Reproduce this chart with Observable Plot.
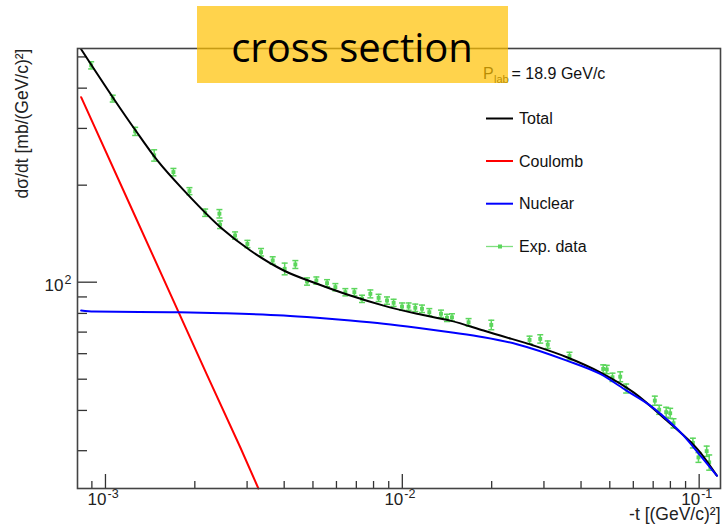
<!DOCTYPE html>
<html>
<head>
<meta charset="utf-8">
<script src="https://cdn.jsdelivr.net/npm/d3@7"></script>
<script src="https://cdn.jsdelivr.net/npm/@observablehq/plot@0.6"></script>
<style>
  body { margin: 0; background: #fff; }
  #chart { width: 723px; height: 530px; }
</style>
</head>
<body>
<div id="chart"></div>
<script>
// Measured elastic cross section: -t [(GeV/c)^2], dσ/dt [mb/(GeV/c)^2] and its error
const expT = [8.95e-4, 1.058e-3, 1.259e-3, 1.459e-3, 1.694e-3, 1.918e-3, 2.167e-3, 2.420e-3, 2.433e-3, 2.733e-3,
  3.007e-3, 3.343e-3, 3.659e-3, 4.015e-3, 4.362e-3, 4.776e-3, 5.134e-3, 5.578e-3, 5.95e-3, 6.428e-3,
  6.894e-3, 7.316e-3, 7.804e-3, 8.32e-3, 8.88e-3, 9.348e-3, 9.977e-3, 0.0105, 0.01106, 0.01165,
  0.01233, 0.0135, 0.01414, 0.0147, 0.01672, 0.01994, 0.02683, 0.02915, 0.0309, 0.03657,
  0.0475, 0.04883, 0.05105, 0.0542, 0.05677, 0.0709, 0.07332, 0.07743, 0.07987, 0.08195,
  0.09524, 0.09946, 0.106, 0.1081];
const expSigma = [470.9, 371.3, 293.8, 247.5, 219.6, 191.7, 164.3, 163.1, 150.8, 139.6,
  131.4, 123.9, 116.8, 110.0, 113.5, 100.5, 101.2, 99.3, 96.5, 93.1,
  93.1, 88.8, 92.0, 89.4, 87.7, 86.3, 84.0, 84.0, 83.3, 82.7,
  80.7, 79.8, 77.5, 77.8, 75.1, 73.7, 66.2, 66.7, 64.0, 59.0,
  53.8, 53.6, 50.7, 50.9, 46.8, 42.9, 40.2, 39.5, 39.2, 36.5,
  31.7, 28.6, 29.9, 27.6];
const expErr = [12, 9, 8.5, 10, 5.8, 4.8, 4.3, 4.9, 4.1, 3.6,
  3.4, 3.3, 3.1, 4.6, 3.2, 2.6, 2.6, 2.5, 2.5, 2.4,
  2.4, 2.3, 2.6, 2.3, 2.3, 2.2, 2.2, 2.2, 2.2, 2.2,
  2.1, 2.1, 2.0, 2.0, 2.0, 2.5, 1.8, 2.0, 1.7, 1.6,
  1.6, 1.6, 1.5, 1.8, 1.5, 1.4, 1.3, 1.4, 1.4, 1.2,
  1.1, 1.0, 1.1, 1.5];

// Model curves
const totalT = [8.28e-4, 1.066e-3, 1.262e-3, 1.493e-3, 1.884e-3, 2.472e-3, 3.077e-3, 3.985e-3, 5.16e-3, 6.68e-3,
  8.65e-3, 0.01121, 0.01451, 0.01878, 0.02138, 0.02767, 0.03584, 0.04642, 0.0601, 0.0778, 0.1008, 0.1147];
const totalSigma = [528, 371, 296, 239, 188, 146.5, 125.4, 108.7, 98.9, 90.9,
  84.6, 79.8, 76.0, 70.8, 68.3, 63.6, 58.5, 52.5, 45.5, 37.2, 29.65, 25.1];

const nuclearT = [8.28e-4, 9.13e-4, 1.655e-3, 2.489e-3, 3.985e-3, 5.16e-3, 6.68e-3, 8.65e-3, 0.01121, 0.01451,
  0.01878, 0.02432, 0.03584, 0.04642, 0.05709, 0.0684, 0.07391, 0.0886, 0.1008, 0.1147];
const nuclearSigma = [81.7, 81.1, 80.7, 80.1, 78.8, 77.5, 76.0, 74.3, 72.2, 69.9,
  67.5, 64.2, 57.1, 51.9, 46.0, 41.4, 39.1, 33.4, 29.0, 25.1];

const coulombT = [8.28e-4, 1.226e-3, 2.2e-3, 2.847e-3, 3.275e-3];
const coulombSigma = [375, 169, 51.5, 30.7, 22.9];

// Axis ticks
const xMajor = [1e-3, 1e-2, 1e-1];
const xMajorExp = ["-3", "-2", "-1"];
const xMinor = [9e-4, 2e-3, 3e-3, 4e-3, 5e-3, 6e-3, 7e-3, 8e-3, 9e-3,
  2e-2, 3e-2, 4e-2, 5e-2, 6e-2, 7e-2, 8e-2, 9e-2];
const yMajor = [100];
const yMajorExp = ["2"];
const yMinor = [30, 40, 50, 60, 70, 80, 90, 200, 300, 400, 500];

// Legend
const legendLabels = ["Total", "Coulomb", "Nuclear", "Exp. data"];
const legendColors = ["#000000", "#ff0000", "#0000ff", "#5cd65c"];
const beamLabel = ["P", "lab", "= 18.9 GeV/c"];
const titleText = "cross section";

const GREEN = "#5cd65c";
const FONT = "'Liberation Sans', Arial, Helvetica, sans-serif";

const W = 723, H = 530;
const ML = 77, MT = 48, MR = 3, MB = 42;
const frameW = W - ML - MR, frameH = H - MT - MB;

const expData = expT.map((t, i) => ({t, s: expSigma[i], e: expErr[i]}));
const total = totalT.map((t, i) => ({t, s: totalSigma[i]}));
const nuclear = nuclearT.map((t, i) => ({t, s: nuclearSigma[i]}));
const coulomb = coulombT.map((t, i) => ({t, s: coulombSigma[i]}));

// short horizontal bar used as the error-bar cap
const capSymbol = {draw(context) { context.moveTo(-3, 0); context.lineTo(3, 0); }};

const plot = Plot.plot({
  width: W, height: H,
  marginLeft: ML, marginTop: MT, marginRight: MR, marginBottom: MB,
  style: {background: "white", fontFamily: FONT, fontSize: "16px", overflow: "visible"},
  x: {type: "log", domain: [8.05e-4, 0.118], axis: null},
  y: {type: "log", domain: [22.9, 531], axis: null},
  marks: [
    // ticks drawn inside the frame
    Plot.tickY(yMinor, {y: d => d, insetRight: frameW - 10, stroke: "#333", strokeWidth: 1.3}),
    Plot.tickY(yMajor, {y: d => d, insetRight: frameW - 20, stroke: "#333", strokeWidth: 1.3}),
    Plot.tickX(xMinor, {x: d => d, insetTop: frameH - 7, stroke: "#333", strokeWidth: 1.3}),
    Plot.tickX(xMajor, {x: d => d, insetTop: frameH - 14, stroke: "#333", strokeWidth: 1.3}),

    // tick labels (base and exponent)
    Plot.text(xMajor, {x: d => d, text: () => "10", frameAnchor: "bottom", textAnchor: "end",
      lineAnchor: "top", dx: 1, dy: 4, fontSize: 17, fill: "#222"}),
    Plot.text(xMajor, {x: d => d, text: (d, i) => xMajorExp[i], frameAnchor: "bottom", textAnchor: "start",
      lineAnchor: "top", dx: 2, dy: 0.5, fontSize: 12.5, fill: "#222"}),
    Plot.text(yMajor, {y: d => d, text: () => "10", frameAnchor: "left", textAnchor: "end",
      lineAnchor: "middle", dx: -14, dy: 3, fontSize: 17, fill: "#222"}),
    Plot.text(yMajor, {y: d => d, text: (d, i) => yMajorExp[i], frameAnchor: "left", textAnchor: "start",
      lineAnchor: "top", dx: -13, dy: -7, fontSize: 12.5, fill: "#222"}),

    // axis titles
    Plot.text(["-t [(GeV/c)²]"], {text: d => d, frameAnchor: "bottom-right", textAnchor: "end",
      lineAnchor: "bottom", dx: 0, dy: 31, fontSize: 17.5, fill: "#222"}),
    Plot.text(["dσ/dt [mb/(GeV/c)²]"], {text: d => d, frameAnchor: "top-left", textAnchor: "end",
      lineAnchor: "bottom", rotate: -90, dx: -50, dy: 0, fontSize: 17.5, fill: "#222"}),

    // measured points with error bars
    Plot.ruleX(expData, {x: "t", y1: d => d.s - d.e, y2: d => d.s + d.e, stroke: GREEN, strokeWidth: 1.5}),
    Plot.dot(expData, {x: "t", y: d => d.s + d.e, symbol: capSymbol, stroke: GREEN, fill: "none", strokeWidth: 1.5}),
    Plot.dot(expData, {x: "t", y: d => d.s - d.e, symbol: capSymbol, stroke: GREEN, fill: "none", strokeWidth: 1.5}),
    Plot.dot(expData, {x: "t", y: "s", symbol: "square", r: 2.2, fill: GREEN, stroke: null}),

    // model curves
    Plot.line(coulomb, {x: "t", y: "s", stroke: "#ff0000", strokeWidth: 2}),
    Plot.line(total, {x: "t", y: "s", stroke: "#000000", strokeWidth: 2, curve: "monotone-x"}),
    Plot.line(nuclear, {x: "t", y: "s", stroke: "#0000ff", strokeWidth: 2, curve: "monotone-x"}),

    Plot.frame({stroke: "#444", strokeWidth: 1.6})
  ]
});

document.getElementById("chart").append(plot);

const svg = d3.select(plot);

// legend
const lg = svg.append("g").attr("font-family", FONT).attr("font-size", 16)
  .attr("fill", "#111").attr("text-anchor", "start");
const rowY = [118.5, 161, 203.7, 246.5];
legendLabels.forEach((label, i) => {
  const cy = rowY[i];
  const isData = i === 3;
  lg.append("line").attr("x1", 486).attr("x2", 513).attr("y1", cy).attr("y2", cy)
    .attr("stroke", isData ? "#7fdf7f" : legendColors[i]).attr("stroke-width", isData ? 1.3 : 2);
  if (isData) {
    lg.append("rect").attr("x", 498).attr("y", cy - 2).attr("width", 4).attr("height", 4).attr("fill", GREEN);
  }
  lg.append("text").attr("x", 519).attr("y", cy).attr("dy", "0.36em").text(label);
});

// beam momentum
lg.append("text").attr("x", 483).attr("y", 78.5).text(beamLabel[0]);
lg.append("text").attr("x", 494).attr("y", 83).attr("font-size", 11).text(beamLabel[1]);
lg.append("text").attr("x", 511.5).attr("y", 79).text(beamLabel[2]);

// title box, drawn semi-transparent over the frame
svg.append("rect").attr("x", 197).attr("y", 6).attr("width", 311).attr("height", 77)
  .attr("fill", "#ffc000").attr("fill-opacity", 0.7);
svg.append("text").attr("x", 352).attr("y", 61.5).attr("text-anchor", "middle")
  .attr("font-family", "'Open Sans', Lato, sans-serif").attr("font-size", 40).attr("fill", "#000")
  .text(titleText);
</script>
</body>
</html>
